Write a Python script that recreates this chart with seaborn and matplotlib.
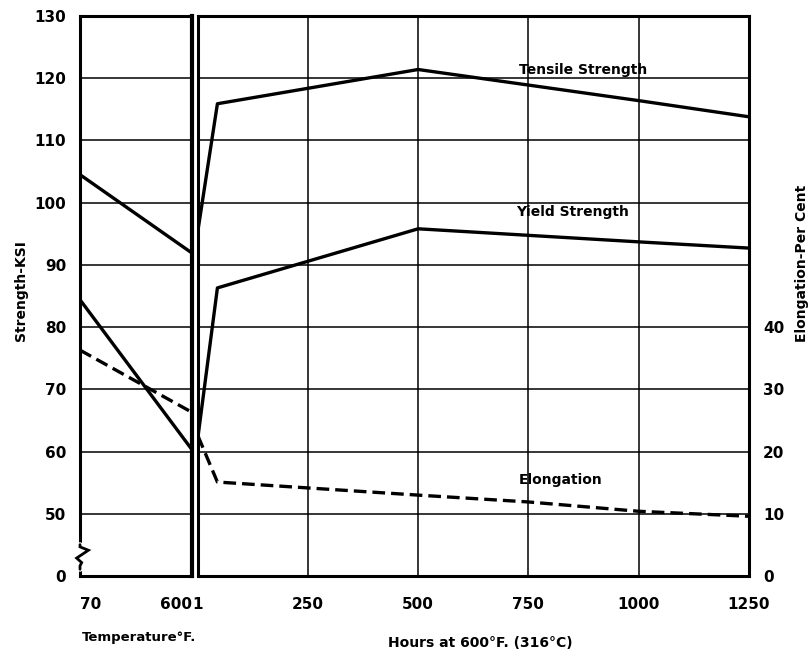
import matplotlib
matplotlib.use("Agg")
import matplotlib.pyplot as plt
import seaborn as sns
import pandas as pd

# --- data -------------------------------------------------------------
temp_f = [70, 600]
temp_tensile = [104.5, 91.9]
temp_yield = [84.4, 60.3]
temp_elong = [36.3, 26.3]

hours = [1, 45, 500, 1000, 1250]
tensile = [95.6, 115.9, 121.4, 116.4, 113.8]
yield_strength = [62.4, 86.3, 95.8, 93.7, 92.7]

hours_elong = [1, 45, 500, 750, 1000, 1250]
elongation = [22.5, 15.1, 13.0, 11.9, 10.4, 9.6]

strength_ticks = [40, 50, 60, 70, 80, 90, 100, 110, 120, 130]
strength_labels = ["0", "50", "60", "70", "80", "90", "100", "110", "120", "130"]
elong_ticks = [0, 10, 20, 30, 40]
temp_ticks = [70, 600]
hour_ticks = [1, 250, 500, 750, 1000, 1250]

# --- style ------------------------------------------------------------
sns.set_style("white")
plt.rcParams["font.family"] = ["DejaVu Sans"]
plt.rcParams["font.weight"] = "bold"
plt.rcParams["text.color"] = "black"
plt.rcParams["xtick.color"] = "black"
plt.rcParams["ytick.color"] = "black"
plt.rcParams["axes.labelcolor"] = "black"

W, H = 809, 657
fig = plt.figure(figsize=(W / 100, H / 100), dpi=100)
fig.patch.set_facecolor("white")

bottom = 1 - 576 / H
height = 560 / H
axL = fig.add_axes([80 / W, bottom, 112 / W, height])
axR = fig.add_axes([198 / W, bottom, 551 / W, height])
axLt = axL.twinx()
axRt = axR.twinx()

LW = 2.4
GRID = dict(color="black", linewidth=1.1)
DASH = (3.8, 1.8)

df_temp = pd.DataFrame({"temp": temp_f, "tensile": temp_tensile,
                        "yield": temp_yield, "elong": temp_elong})
df_hours = pd.DataFrame({"hours": hours, "tensile": tensile,
                         "yield": yield_strength})
df_elong = pd.DataFrame({"hours": hours_elong, "elong": elongation})

# left panel: strength vs temperature
sns.lineplot(data=df_temp, x="temp", y="tensile", ax=axL, color="black",
             linewidth=LW, zorder=5)
sns.lineplot(data=df_temp, x="temp", y="yield", ax=axL, color="black",
             linewidth=LW, zorder=5)
sns.lineplot(data=df_temp, x="temp", y="elong", ax=axLt, color="black",
             linewidth=LW, zorder=5)
axLt.lines[-1].set_dashes(DASH)

# right panel: strength vs hours at 600 F
sns.lineplot(data=df_hours, x="hours", y="tensile", ax=axR, color="black",
             linewidth=LW, zorder=5)
sns.lineplot(data=df_hours, x="hours", y="yield", ax=axR, color="black",
             linewidth=LW, zorder=5)
sns.lineplot(data=df_elong, x="hours", y="elong", ax=axRt, color="black",
             linewidth=LW, zorder=5)
axRt.lines[-1].set_dashes(DASH)

for ax in (axL, axR):
    ax.set_ylim(40, 130)
    ax.set_yticks(strength_ticks)
    ax.set_xlabel("")
    ax.set_ylabel("")
    for s in ax.spines.values():
        s.set_visible(True)
        s.set_linewidth(2.2)
        s.set_color("black")
    ax.tick_params(length=0)
axL.spines["right"].set_linewidth(3.0)

for ax in (axLt, axRt):
    ax.set_ylim(0, 90)
    ax.set_ylabel("")
    for s in ax.spines.values():
        s.set_visible(False)
    ax.tick_params(length=0)

axL.set_xlim(70, 600)
axL.set_xticks(temp_ticks)
axL.set_xticklabels([str(t) for t in temp_ticks], fontsize=11, fontweight="bold")
xl = axL.get_xticklabels()
xl[0].set_ha("left")
xl[1].set_ha("right")
axL.set_yticklabels(strength_labels, fontsize=11, fontweight="bold")
axL.tick_params(axis="x", pad=15)
axL.tick_params(axis="y", pad=10)
axL.yaxis.grid(True, **GRID)
axL.xaxis.grid(False)
axLt.set_yticks([])

axR.set_xlim(1, 1250)
axR.set_xticks(hour_ticks)
axR.set_xticklabels([str(t) for t in hour_ticks], fontsize=11, fontweight="bold")
axR.tick_params(axis="x", pad=15)
axR.tick_params(axis="y", labelleft=False)
axR.grid(True, **GRID)
axRt.set_yticks(elong_ticks)
axRt.set_yticklabels([str(t) for t in elong_ticks], fontsize=11, fontweight="bold")
axRt.tick_params(axis="y", pad=10)

# curve labels
axR.text(874, 121.4, "Tensile Strength", ha="center", va="center",
         fontsize=10, fontweight="bold", zorder=6)
axR.text(851, 98.5, "Yield Strength", ha="center", va="center",
         fontsize=10, fontweight="bold", zorder=6)
axRt.text(822, 15.4, "Elongation", ha="center", va="center",
          fontsize=10, fontweight="bold", zorder=6)

# axis titles
fig.text(21 / W, 1 - 291 / H, "Strength-KSI", rotation=90, ha="center",
         va="center", fontsize=10, fontweight="bold")
fig.text(802 / W, 1 - 263 / H, "Elongation-Per Cent", rotation=90,
         ha="center", va="center", fontsize=10, fontweight="bold")
fig.text(139 / W, 1 - 638 / H, "Temperature°F.", ha="center", va="center",
         fontsize=9.5, fontweight="bold")
fig.text(480 / W, 1 - 643 / H, "Hours at 600°F. (316°C)", ha="center",
         va="center", fontsize=10, fontweight="bold")

# break mark on the strength axis between 0 and 50
axL.plot([0, 0], [0.012, 0.056], transform=axL.transAxes, color="white",
         linewidth=4, clip_on=False, zorder=10)
axL.plot([0, 0, 0.075, -0.03, 0.015, 0.0, 0.0],
         [0.056, 0.052, 0.046, 0.032, 0.024, 0.018, 0.012],
         transform=axL.transAxes, color="black", linewidth=2.0,
         clip_on=False, zorder=11, solid_joinstyle="miter")

fig.savefig("out.png", dpi=100, facecolor="white")
